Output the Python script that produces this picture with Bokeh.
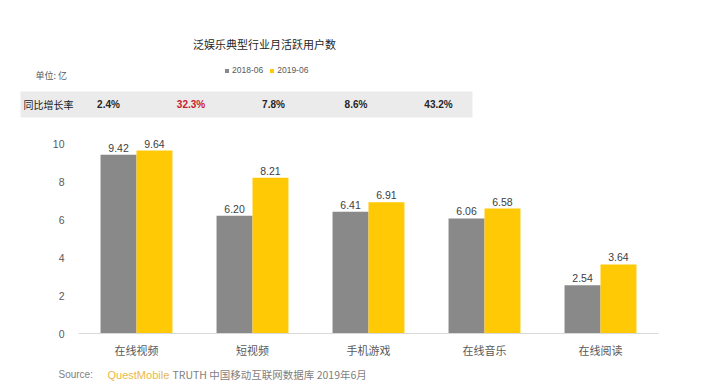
from bokeh.plotting import figure
from bokeh.layouts import column
from bokeh.models import (ColumnDataSource, FactorRange, Range1d, Label, BoxAnnotation,
                          Legend, LegendItem, FixedTicker)
from bokeh.transform import dodge
from bokeh.core.properties import value
from bokeh.embed import file_html
from bokeh.resources import INLINE

categories = ["在线视频", "短视频", "手机游戏", "在线音乐", "在线阅读"]
mau_2018 = [9.42, 6.20, 6.41, 6.06, 2.54]
mau_2019 = [9.64, 8.21, 6.91, 6.58, 3.64]
growth = ["2.4%", "32.3%", "7.8%", "8.6%", "43.2%"]
growth_highlight = [False, True, False, False, False]
series_names = ["2018-06", "2019-06"]
y_ticks = [0, 2, 4, 6, 8, 10]

GRAY = "#898989"
YELLOW = "#FFCA05"
CJK = "Noto Sans CJK SC"
NUM = "Liberation Sans"
W = 707


def canvas(y0, y1):
    """A figure whose frame fills it; data coords = page pixels."""
    f = figure(width=W, height=y1 - y0, x_range=Range1d(0, W), y_range=Range1d(y1, y0),
               output_backend="svg", toolbar_location=None, x_axis_type=None, y_axis_type=None,
               min_border=0, min_border_left=0, min_border_right=0, min_border_top=0,
               min_border_bottom=0, frame_align=False)
    f.outline_line_color = None
    f.xgrid.grid_line_color = None
    f.ygrid.grid_line_color = None
    return f


def label(f, x, y, text, font=CJK, size="10px", color="#262626", align="left", style="normal"):
    f.add_layout(Label(x=x, y=y, text=text, text_align=align, text_baseline="middle",
                       text_font=font, text_font_size=size, text_color=color,
                       text_font_style=style))


# ---------------- header ----------------
top = canvas(0, 128)
label(top, 264, 43, "泛娱乐典型行业月活跃用户数", size="11px", color="#262626", align="center")
label(top, 35, 75, "单位: 亿", size="9px", color="#595959")
top.add_layout(BoxAnnotation(left=20, right=472, top=91, bottom=117,
                             fill_color="#ebebeb", fill_alpha=1.0, line_color=None,
                             level="underlay"))
label(top, 23, 104, "同比增长率", size="10px", color="#1a1a1a")
for i, (g, hi) in enumerate(zip(growth, growth_highlight)):
    label(top, 108 + 82.5 * i, 104, g, font=NUM, size="10px",
          color="#C8202F" if hi else "#262626", align="center", style="bold")

# legend swatches (zero-height proxies so the legend can draw its colour squares)
d1 = top.vbar(x=[0], top=[0], bottom=[0], width=0, fill_color=GRAY, line_color=None)
d2 = top.vbar(x=[0], top=[0], bottom=[0], width=0, fill_color=YELLOW, line_color=None)
legend = Legend(items=[LegendItem(label=series_names[0], renderers=[d1]),
                       LegendItem(label=series_names[1], renderers=[d2])],
                location=(224, 128 - 75), orientation="horizontal",
                glyph_width=5, glyph_height=5, label_height=10, label_standoff=3,
                spacing=6, padding=0, margin=0, border_line_color=None,
                background_fill_alpha=0, label_text_font=NUM,
                label_text_font_size="8.5px", label_text_color="#595959")
top.add_layout(legend)

# ---------------- bars ----------------
src = ColumnDataSource(dict(
    cat=categories,
    a=mau_2018,
    b=mau_2019,
    la=["%.2f" % v for v in mau_2018],
    lb=["%.2f" % v for v in mau_2019],
))

p = figure(x_range=FactorRange(*categories), y_range=Range1d(0, 10.8),
           width=W, height=239, output_backend="svg", toolbar_location=None,
           min_border_left=78, min_border_right=49, min_border_top=0, min_border_bottom=34,
           frame_align=False)
p.outline_line_color = None
p.xgrid.grid_line_color = None
p.ygrid.grid_line_color = None

bw = 0.31
p.vbar(x=dodge("cat", -bw / 2, range=p.x_range), top="a", width=bw, source=src,
       fill_color=GRAY, line_color=None)
p.vbar(x=dodge("cat", bw / 2, range=p.x_range), top="b", width=bw, source=src,
       fill_color=YELLOW, line_color=None)

for col, lab, off in (("a", "la", -bw / 2), ("b", "lb", bw / 2)):
    p.text(x=dodge("cat", off, range=p.x_range), y=col, text=lab, source=src,
           text_align="center", text_baseline="bottom", y_offset=-3,
           text_font=value(NUM), text_font_size="10.5px", text_color="#404040")

p.yaxis.ticker = FixedTicker(ticks=y_ticks)
p.yaxis.axis_line_color = None
p.yaxis.major_tick_line_color = None
p.yaxis.minor_tick_line_color = None
p.yaxis.major_label_standoff = 8
p.yaxis.major_label_text_font = NUM
p.yaxis.major_label_text_font_size = "10.5px"
p.yaxis.major_label_text_color = "#595959"

p.xaxis.axis_line_color = "#d9d9d9"
p.xaxis.major_tick_line_color = None
p.xaxis.minor_tick_line_color = None
p.xaxis.major_tick_out = 0
p.xaxis.major_tick_in = 0
p.xaxis.major_label_standoff = 8
p.xaxis.major_label_text_font = CJK
p.xaxis.major_label_text_font_size = "11px"
p.xaxis.major_label_text_color = "#595959"

# ---------------- source ----------------
bot = canvas(367, 382)
label(bot, 58, 374, "Source:", font=NUM, size="10px", color="#7f7f7f")
label(bot, 107, 374, "QuestMobile", font=NUM, size="11px", color="#E9B949")
label(bot, 172, 374, "TRUTH 中国移动互联网数据库 2019年6月", size="10.5px", color="#7f7f7f")

layout = column(top, p, bot, spacing=0)
open("out.html", "w").write(file_html(layout, INLINE))
